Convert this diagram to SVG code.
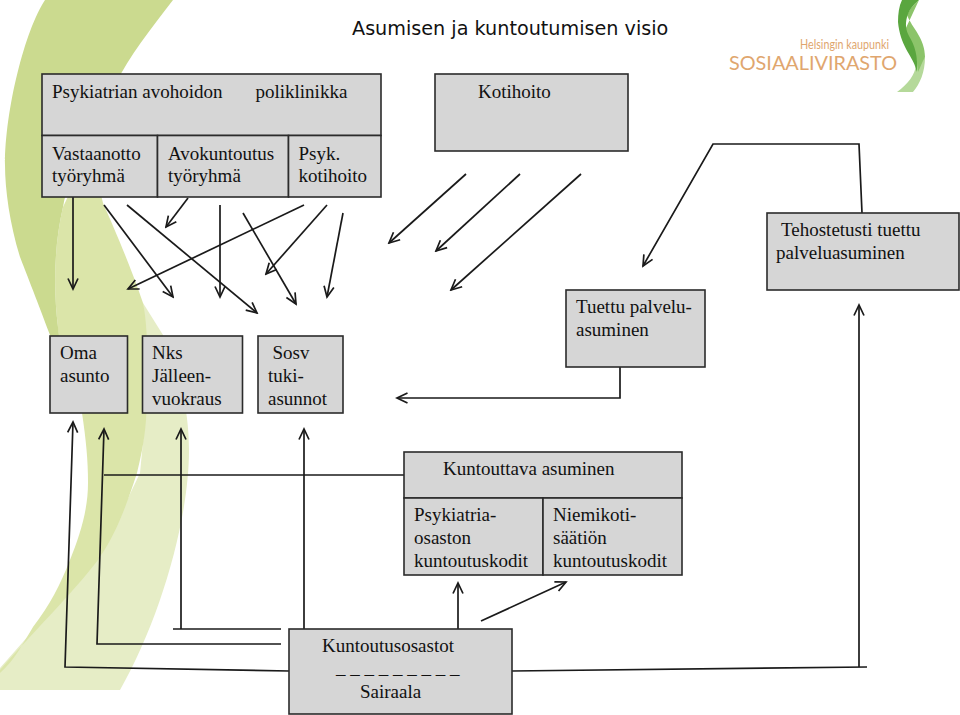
<svg xmlns="http://www.w3.org/2000/svg" width="960" height="715" viewBox="0 0 960 715">
<style>
.b{fill:#d6d6d6;stroke:#2b2b2b;stroke-width:1.6}
.t{font-family:"Liberation Serif","Times New Roman",serif;font-size:19px;fill:#111}
.c line,.c polyline{fill:none;stroke:#1a1a1a;stroke-width:1.7}
</style>
<defs>
<marker id="a" markerUnits="userSpaceOnUse" markerWidth="14" markerHeight="14" refX="12" refY="6" orient="auto"><path d="M1.500 1L12 6L1.500 11" fill="none" stroke="#1a1a1a" stroke-width="1.7"/></marker>
</defs>
<rect width="960" height="715" fill="#fff"/>
<g id="background">
<path d="M143 303L163 335C178 370 189 405 189 450C189 520 160 620 120 690H0V668L60 600L100 557L140 473L147 400Z" fill="#e6edc6"/>
<path d="M90 150L103 203C115 230 130 265 143 303C149 330 148 390 146 420C144 445 140 460 137 473C125 510 115 535 100 557C80 585 40 625 0 670V673C15 660 25 640 33 627C50 605 60 585 70 560C80 535 88 510 88 483C88 460 86 440 82 413C77 395 70 375 65 360C60 345 58 335 58 327C54 295 53 250 63 207Z" fill="#dbe5a9"/>
<path d="M45 0H173C150 30 130 55 115 85C90 130 70 170 63 207C53 250 54 295 58 327C59 340 62 350 65 360L50 335C35 295 25 270 20 257C10 225 5 190 5 165C5 110 25 30 45 0Z" fill="#cbda8f"/>
</g>
<g id="logo">
<path d="M897 92C908 84 915 75 916 65L925 57C925 72 920 84 913 92Z" fill="#b5d99a"/>
<path d="M919 0C913 5 909 10 907 15C912 28 925 38 925 57C922 62 920 68 918 72C918 60 912 45 905 30Z" fill="#8cc46a"/>
<path d="M902 0H919C913 5 909 10 907 17C905 25 906 30 909 36C915 46 918 56 917 72L915 66C912 56 900 45 898 22C898 14 899 6 902 0Z" fill="#5aa63f"/>
<text x="800" y="49" font-family="Lato,sans-serif" font-size="13" fill="#e0a66e" textLength="89" lengthAdjust="spacingAndGlyphs">Helsingin kaupunki</text>
<text x="729" y="70" font-family="Lato,sans-serif" font-size="19" fill="#e0a66e" textLength="168" lengthAdjust="spacingAndGlyphs">SOSIAALIVIRASTO</text>
</g>
<text id="title" x="352" y="35" font-family="DejaVu Sans,sans-serif" font-size="19.200" fill="#111">Asumisen ja kuntoutumisen visio</text>
<g class="c" id="connectors">
<line x1="73" y1="197" x2="73" y2="289" marker-end="url(#a)"/>
<line x1="188" y1="198" x2="166" y2="227" marker-end="url(#a)"/>
<line x1="104" y1="205" x2="173" y2="297" marker-end="url(#a)"/>
<line x1="127" y1="205" x2="257" y2="313" marker-end="url(#a)"/>
<line x1="220" y1="205" x2="220" y2="297" marker-end="url(#a)"/>
<line x1="243" y1="213" x2="296" y2="304" marker-end="url(#a)"/>
<line x1="304" y1="205" x2="128" y2="289" marker-end="url(#a)"/>
<line x1="327" y1="205" x2="266" y2="274" marker-end="url(#a)"/>
<line x1="343" y1="213" x2="327" y2="297" marker-end="url(#a)"/>
<line x1="466" y1="174" x2="389" y2="243" marker-end="url(#a)"/>
<line x1="520" y1="174" x2="436" y2="251" marker-end="url(#a)"/>
<line x1="581" y1="174" x2="451" y2="290" marker-end="url(#a)"/>
<polyline points="862,213 859,144 713,144 643,266" marker-end="url(#a)"/>
<polyline points="620,367 620,398 397,398" marker-end="url(#a)"/>
<line x1="104" y1="475" x2="404" y2="475"/>
<polyline points="289,671 65,667 73,422" marker-end="url(#a)"/>
<polyline points="281,644 97,644 104,429" marker-end="url(#a)"/>
<line x1="173" y1="629" x2="281" y2="629"/>
<line x1="181" y1="629" x2="181" y2="429" marker-end="url(#a)"/>
<line x1="304" y1="629" x2="304" y2="429" marker-end="url(#a)"/>
<line x1="458" y1="629" x2="458" y2="583" marker-end="url(#a)"/>
<line x1="481" y1="621" x2="566" y2="582" marker-end="url(#a)"/>
<line x1="512" y1="671" x2="867" y2="667"/>
<line x1="859" y1="667" x2="859" y2="305" marker-end="url(#a)"/>
</g>
<g id="poliklinikka">
<rect class="b" x="42" y="74" width="339" height="61.500"/>
<text class="t" x="52" y="97.500">Psykiatrian avohoidon</text>
<text class="t" x="255.500" y="97.500">poliklinikka</text>
</g>
<g id="vastaanotto">
<rect class="b" x="42" y="135.500" width="115.500" height="61.500"/>
<text class="t" x="52" y="159.500">Vastaanotto</text>
<text class="t" x="52" y="182">työryhmä</text>
</g>
<g id="avokuntoutus">
<rect class="b" x="157.500" y="135.500" width="131" height="61.500"/>
<text class="t" x="168" y="159.500">Avokuntoutus</text>
<text class="t" x="168" y="182">työryhmä</text>
</g>
<g id="psyk">
<rect class="b" x="288.500" y="135.500" width="92.500" height="61.500"/>
<text class="t" x="298.500" y="159.500">Psyk.</text>
<text class="t" x="298.500" y="182">kotihoito</text>
</g>
<g id="kotihoito">
<rect class="b" x="435" y="74" width="193" height="77"/>
<text class="t" x="478" y="97.500">Kotihoito</text>
</g>
<g id="tehostetusti">
<rect class="b" x="767" y="213" width="192" height="77"/>
<text class="t" x="781" y="236">Tehostetusti tuettu</text>
<text class="t" x="776" y="259">palveluasuminen</text>
</g>
<g id="tuettu">
<rect class="b" x="566" y="290" width="139" height="77"/>
<text class="t" x="576" y="313">Tuettu palvelu-</text>
<text class="t" x="576" y="336">asuminen</text>
</g>
<g id="oma">
<rect class="b" x="50" y="336" width="77.500" height="77"/>
<text class="t" x="60" y="359">Oma</text>
<text class="t" x="60" y="382">asunto</text>
</g>
<g id="nks">
<rect class="b" x="142.500" y="336" width="100" height="77"/>
<text class="t" x="152" y="359">Nks</text>
<text class="t" x="152" y="382">Jälleen-</text>
<text class="t" x="152" y="405">vuokraus</text>
</g>
<g id="sosv">
<rect class="b" x="258" y="336" width="85" height="77"/>
<text class="t" x="272.500" y="359">Sosv</text>
<text class="t" x="268" y="382">tuki-</text>
<text class="t" x="268" y="405">asunnot</text>
</g>
<g id="kuntouttava">
<rect class="b" x="404" y="452" width="278" height="46"/>
<text class="t" x="443" y="475">Kuntouttava asuminen</text>
</g>
<g id="psykiatria">
<rect class="b" x="404" y="498" width="139" height="77"/>
<text class="t" x="414" y="521">Psykiatria-</text>
<text class="t" x="414" y="544">osaston</text>
<text class="t" x="414" y="567">kuntoutuskodit</text>
</g>
<g id="niemikoti">
<rect class="b" x="543" y="498" width="139" height="77"/>
<text class="t" x="553" y="521">Niemikoti-</text>
<text class="t" x="553" y="544">säätiön</text>
<text class="t" x="553" y="567">kuntoutuskodit</text>
</g>
<g id="kuntoutusosastot">
<rect class="b" x="289" y="629" width="223" height="85"/>
<text class="t" x="322" y="652">Kuntoutusosastot</text>
<text class="t" x="336" y="674">_ _ _ _ _ _ _ _ _</text>
<text class="t" x="360" y="698">Sairaala</text>
</g>
</svg>
